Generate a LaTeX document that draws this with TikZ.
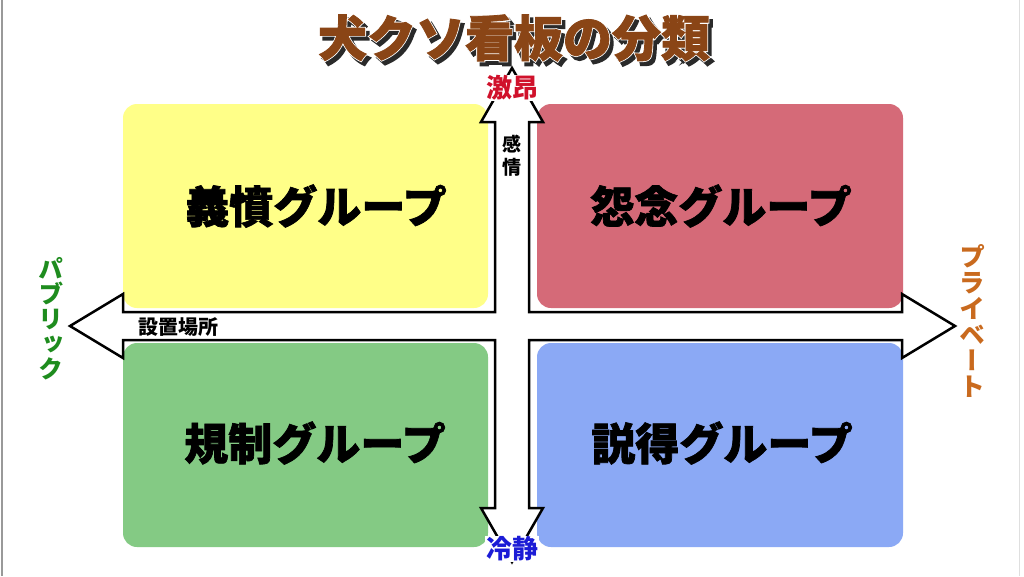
\documentclass[tikz,border=0pt]{standalone}
\usepackage{fontspec}
\newfontfamily\jp{Noto Sans CJK JP}
\newfontfamily\jph{Noto Sans CJK JP}[BoldFeatures={FakeBold=1.6}]
\newfontfamily\jpo{Noto Sans CJK JP}[BoldFeatures={FakeBold=5}]
\newfontfamily\jpv{Noto Sans CJK JP}[RawFeature=+vert]
\usetikzlibrary{calc}
\definecolor{cyel}{HTML}{FFFF88}
\definecolor{cpink}{HTML}{D56A78}
\definecolor{cgreen}{HTML}{84CA84}
\definecolor{cblue}{HTML}{8BA9F5}
\definecolor{ctitle}{HTML}{8A4516}
\definecolor{cshadow}{HTML}{2A2A2A}
\definecolor{cred}{HTML}{D0112B}
\definecolor{cnavy}{HTML}{1C1CD6}
\definecolor{cpub}{HTML}{1E8C1E}
\definecolor{cpriv}{HTML}{C96A1E}
\tikzset{
  quad/.style={rectangle, rounded corners=14pt, inner sep=0pt, draw=none},
  qlabel/.style={font=\jph\bfseries\fontsize{44}{44}\selectfont, inner sep=0pt},
  titlefont/.style={font=\jph\bfseries\fontsize{49}{49}\selectfont, inner sep=0pt},
  titleback/.style={font=\jpo\bfseries\fontsize{49}{49}\selectfont, inner sep=0pt},
  axislabel/.style={font=\jp\bfseries\fontsize{26}{26}\selectfont, inner sep=1pt, fill=white},
  smalllabel/.style={font=\jp\bfseries\fontsize{19}{23}\selectfont, inner sep=0pt, align=center},
  sidelabel/.style={font=\jpv\bfseries\fontsize{25}{25}\selectfont, inner sep=0pt, align=center},
  crossline/.style={draw=black, line width=2.5pt, fill=white, line join=miter}
}
\begin{document}
\begin{tikzpicture}[x=1pt,y=-1pt]
\useasboundingbox (0,0) rectangle (1024,576);
\fill[white] (0,0) rectangle (1024,576);
\draw[gray!80, line width=2pt] (2,0) -- (2,576);
\draw[gray!25, line width=1pt] (1019,0) -- (1019,576);

% title: shadow, white outline, brown face
\coordinate (tc) at (514,38);
\node[titleback, text=cshadow] (tshadow) at ($(tc)+(3.5,4)$) {犬クソ看板の分類};
\node[titleback, text=white] (toutline) at (tc) {犬クソ看板の分類};
\node[titlefont, text=ctitle] (title) at (tc) {犬クソ看板の分類};

% quadrant boxes
\node[quad, fill=cyel,   minimum width=365pt, minimum height=204pt] (q1) at (305.5,206) {};
\node[quad, fill=cpink,  minimum width=366pt, minimum height=204pt] (q2) at (720,206) {};
\node[quad, fill=cgreen, minimum width=365pt, minimum height=204pt] (q3) at (305.5,445) {};
\node[quad, fill=cblue,  minimum width=366pt, minimum height=204pt] (q4) at (720,445) {};

% cross of arrows
\draw[crossline]
  (512,68) -- (543,122) -- (529,122) -- (529,312) -- (902,312) -- (902,294)
  -- (955,326) -- (902,358) -- (902,340) -- (529,340) -- (529,508) -- (543,508)
  -- (512,562) -- (481,508) -- (495,508) -- (495,340) -- (123,340) -- (123,358)
  -- (70,326) -- (123,294) -- (123,312) -- (495,312) -- (495,122) -- (481,122) -- cycle;

% quadrant labels
\node[qlabel] (l1) at (316,206) {義憤グループ};
\node[qlabel] (l2) at (721,206) {怨念グループ};
\node[qlabel] (l3) at (315,443) {規制グループ};
\node[qlabel] (l4) at (722,443) {説得グループ};

% axis labels
\node[axislabel, text=cred] (up) at (512,88) {激昂};
\node[axislabel, text=cnavy] (down) at (512,549) {冷静};
\node[smalllabel] (emo) at (512,156) {感\\情};
\node[font=\jp\bfseries\fontsize{20}{20}\selectfont, inner sep=0pt] (place) at (178,327) {設置場所};
\node[sidelabel, text=cpub] (pub) at (51,319) {パ\\ブ\\リ\\ッ\\ク};
\node[sidelabel, text=cpriv, font=\jpv\bfseries\fontsize{26}{26}\selectfont] (priv) at (972,321) {プ\\ラ\\イ\\ベ\\ー\\ト};
\end{tikzpicture}
\end{document}
